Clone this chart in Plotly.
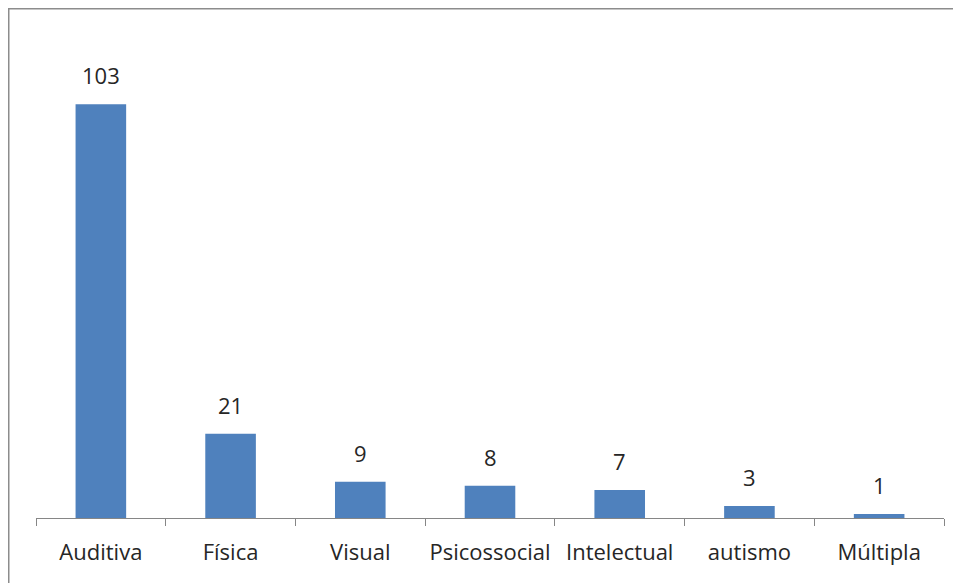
import plotly.graph_objects as go

categories = ["Auditiva", "Física", "Visual", "Psicossocial", "Intelectual", "autismo", "Múltipla"]
values = [103, 21, 9, 8, 7, 3, 1]

W, H = 961, 583
ml, mr, mt, mb = 28, 25, 28, 73
pw = W - ml - mr
ph = H - mt - mb

FONT = "Open Sans, Lato, sans-serif"
FS = 22

fig = go.Figure(go.Bar(
    x=categories, y=values,
    marker=dict(color="#4F81BD", line=dict(width=0)),
    width=0.39,
))

for c, v in zip(categories, values):
    fig.add_annotation(
        x=c, y=v, text=str(v), showarrow=False,
        yanchor="middle", yshift=29,
        font=dict(family=FONT, size=FS, color="#262626"),
    )

fig.update_layout(
    width=W, height=H,
    margin=dict(l=ml, r=mr, t=mt, b=mb, autoexpand=False),
    plot_bgcolor="white", paper_bgcolor="white",
    showlegend=False,
    xaxis=dict(
        showline=True, linecolor="#868686", linewidth=1,
        ticks="outside", tickson="boundaries", ticklen=7, tickcolor="#868686",
        tickfont=dict(family=FONT, size=FS, color="#262626"),
        ticklabelstandoff=15, tickangle=0, automargin=False,
        showgrid=False,
    ),
    yaxis=dict(range=[0, 120], visible=False, showgrid=False),
    shapes=[dict(
        type="rect", xref="paper", yref="paper",
        x0=(0.5 - ml) / pw, x1=(W - 3 - ml) / pw,
        y0=-(H - 5 - mt - ph) / ph, y1=1 + (mt - 0.5) / ph,
        line=dict(color="#8C8C8C", width=2), fillcolor="rgba(0,0,0,0)",
    )],
)

fig.write_html("out.html")
